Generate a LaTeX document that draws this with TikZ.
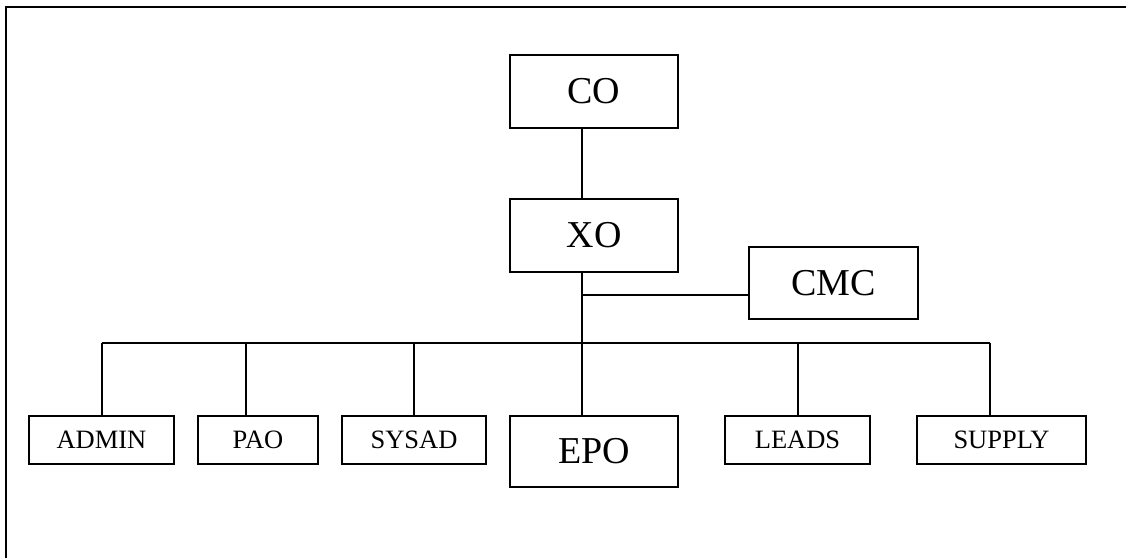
\documentclass[tikz,border=0pt]{standalone}
\usepackage{fontspec}
\setmainfont{Liberation Serif}
\begin{document}
\begin{tikzpicture}[x=1pt,y=-1pt,
  box/.style={draw,line width=1.6pt,inner sep=0pt,anchor=center},
  big/.style={box,font=\fontsize{38}{40}\selectfont},
  small/.style={box,font=\fontsize{26.5}{30}\selectfont},
  link/.style={line width=1.6pt}]
\useasboundingbox (0,0) rectangle (1126,557);
\draw[line width=2.4pt] (6,560) -- (6,7) -- (1130,7);
\node[big,minimum width=168pt,minimum height=73pt] (co) at (594,91.5) {CO};
\node[big,minimum width=168pt,minimum height=73pt] (xo) at (594,235.5) {XO};
\node[big,minimum width=169pt,minimum height=72pt] (cmc) at (833.5,283) {CMC};
\node[small,minimum width=145pt,minimum height=48pt] (admin) at (101.5,440) {ADMIN};
\node[small,minimum width=120pt,minimum height=48pt] (pao) at (258,440) {PAO};
\node[small,minimum width=144pt,minimum height=48pt] (sysad) at (414,440) {SYSAD};
\node[big,minimum width=168pt,minimum height=71pt] (epo) at (594,451.5) {EPO};
\node[small,minimum width=145pt,minimum height=48pt] (leads) at (797.5,440) {LEADS};
\node[small,minimum width=169pt,minimum height=48pt] (supply) at (1001.5,440) {SUPPLY};
\coordinate (j) at (582,295);
\coordinate (bL) at (102,343);
\coordinate (bR) at (990,343);
\draw[link] ([xshift=-12pt]co.south) -- ([xshift=-12pt]xo.north);
\draw[link] ([xshift=-12pt]xo.south) -- ([xshift=-12pt]epo.north);
\draw[link] (j) -- (j -| cmc.west);
\draw[link] (bL) -- (bR);
\draw[link] ([xshift=0.5pt]admin.north) -- ([xshift=0.5pt]admin.north |- bL);
\draw[link] ([xshift=-12pt]pao.north) -- ([xshift=-12pt]pao.north |- bL);
\draw[link] (sysad.north) -- (sysad.north |- bL);
\draw[link] ([xshift=0.5pt]leads.north) -- ([xshift=0.5pt]leads.north |- bL);
\draw[link] ([xshift=-11.5pt]supply.north) -- ([xshift=-11.5pt]supply.north |- bL);
\end{tikzpicture}
\end{document}
